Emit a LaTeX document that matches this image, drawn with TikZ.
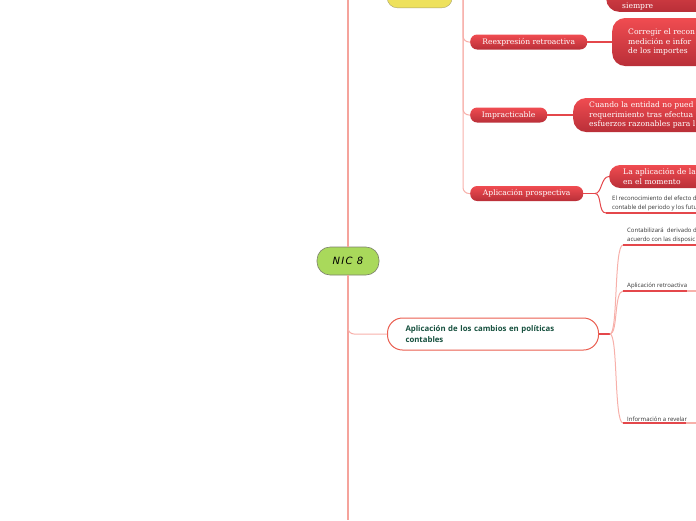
\documentclass[tikz,border=0pt]{standalone}
\usepackage{fontspec}
\setmainfont{Open Sans}
\newfontfamily\redserif{DejaVu Serif}
\newfontfamily\nicfont[LetterSpace=12]{DejaVu Sans}
\definecolor{trunkc}{HTML}{F5A39C}
\definecolor{branchc}{HTML}{F7B0AA}
\definecolor{redc}{HTML}{E4474B}
\definecolor{redtop}{HTML}{F04C51}
\definecolor{redbot}{HTML}{B92F38}
\definecolor{mainred}{HTML}{EA5E50}
\definecolor{maingreen}{HTML}{17513F}
\definecolor{nicgreen}{HTML}{A9D95B}
\definecolor{nicborder}{HTML}{7C806C}
\definecolor{yelfill}{HTML}{EEE15C}
\definecolor{yelborder}{HTML}{A8A270}
\definecolor{smallgray}{HTML}{333333}
\begin{document}
\begin{tikzpicture}[x=1pt,y=-1pt,
  pill/.style={rounded corners=7pt, top color=redtop, bottom color=redbot, text=white,
    font=\redserif\fontsize{7.6}{9}\selectfont, minimum height=15pt, inner sep=0pt, anchor=west},
  bigred/.style={rounded corners=13pt, top color=redtop, bottom color=redbot, text=white,
    font=\redserif\fontsize{7.6}{9.6}\selectfont, align=left, anchor=west, inner ysep=0pt},
  trunkline/.style={draw=trunkc, line width=1.4pt},
  branch/.style={draw=branchc, line width=1pt},
  redln/.style={draw=redc, line width=1.3pt},
  smalltext/.style={font=\fontsize{6}{9.5}\selectfont, text=smallgray, anchor=south west, inner sep=0pt, align=left}
]
\useasboundingbox (0,0) rectangle (696,520);
\clip (0,0) rectangle (696,520);

% nodes
\node (yel) [fill=yelfill, draw=yelborder, rounded corners=10pt, minimum width=65, minimum height=30, anchor=south west] at (387,8) {};
\node (nic) [fill=nicgreen, draw=nicborder, line width=0.6pt, rounded corners=13pt, minimum width=62, minimum height=28,
  font=\nicfont\itshape\fontsize{10}{12}\selectfont, text=black] at (348,261) {NIC 8};

\node (reex) [pill, minimum width=117] at (470,42) {Reexpresión retroactiva};
\node (impr) [pill, minimum width=77] at (470,115) {Impracticable};
\node (prosp) [pill, minimum width=113] at (470,193.5) {Aplicación prospectiva};

\node (topr) [bigred, minimum width=130, minimum height=40, anchor=south west] at (606,12) {};
\node (siem) [anchor=west, inner sep=0pt, text=white, font=\redserif\fontsize{7.6}{9}\selectfont] at (622,6) {siempre};
\node (corr) [bigred, minimum height=48, text width=90pt, inner xsep=16pt] at (612,42) {Corregir el recon\\medición e infor\\de los importes};
\node (cuan) [bigred, minimum height=34, text width=120pt, inner xsep=16pt] at (573,115) {Cuando la entidad no pued\\requerimiento tras efectua\\esfuerzos razonables para l};
\node (lapl) [bigred, rounded corners=11pt, minimum height=23, text width=90pt, inner xsep=14pt,
  font=\redserif\fontsize{7.6}{10}\selectfont] at (609,176.5) {La aplicación de la\\en el momento};

\node (recon) [smalltext, font=\fontsize{6}{9}\selectfont] at (612,211.5) {El reconocimiento del efecto d\\contable del periodo y los futu};

\node (main) [draw=mainred, line width=1pt, rounded corners=15pt, fill=white, minimum width=211, minimum height=32,
  anchor=west, text width=175pt, align=left, inner xsep=18pt, font=\bfseries\fontsize{7.8}{11}\selectfont, text=maingreen]
  at (387,334) {Aplicación de los cambios en políticas\\contables};

\node (conta) [smalltext] at (627,243.5) {Contabilizará\ \ derivado d\\acuerdo con las disposic};
\node (aret) [smalltext] at (627,289.5) {Aplicación retroactiva};
\node (info) [smalltext] at (627,421.5) {Información a revelar};

% coordinates
\coordinate (ttop) at (348,0);
\coordinate (tbot) at (348,520);
\coordinate (tj) at (348,300);
\coordinate (vtop) at (463,0);
\coordinate (pf) at (595,193.5);
\coordinate (u1) at (606,213);
\coordinate (u1e) at (700,213);
\coordinate (f2) at (610,334);
\coordinate (c1) at (623,245);
\coordinate (c1e) at (700,245);
\coordinate (c2) at (623,291);
\coordinate (c2m) at (687,291);
\coordinate (c2e) at (700,291);
\coordinate (c3) at (623,423);
\coordinate (c3m) at (686,423);
\coordinate (c3e) at (700,423);

% connectors
\draw[trunkline] (ttop) -- (nic.north);
\draw[trunkline] (nic.south) -- (tbot);
\draw[branch, rounded corners=6pt] (tj) |- (main.west);

\draw[branch, rounded corners=6pt] (vtop) |- (prosp.west);
\draw[branch, rounded corners=6pt] (vtop) |- (reex.west);
\draw[branch, rounded corners=6pt] (vtop) |- (impr.west);

\draw[redln] (reex.east) -- (corr.west);
\draw[redln] (impr.east) -- (cuan.west);
\draw[redln] (prosp.east) -- (pf);
\draw[redln, line width=1pt] (pf) .. controls (602,193.5) and (601,176.5) .. (lapl.west);
\draw[redln, line width=1pt] (pf) .. controls (602,193.5) and (598,213) .. (u1);
\draw[redln] (u1) -- (u1e);

\draw[redln] (main.east) -- (f2);
\draw[branch] (f2) .. controls (618,334) and (614,245) .. (c1);
\draw[branch] (f2) .. controls (618,334) and (614,291) .. (c2);
\draw[branch] (f2) .. controls (618,334) and (614,423) .. (c3);
\draw[redln] (c1) -- (c1e);
\draw[redln] (c2) -- (c2m);
\draw[branch, line width=1.3pt] (c2m) -- (c2e);
\draw[redln] (c3) -- (c3m);
\draw[branch, line width=1.3pt] (c3m) -- (c3e);
\end{tikzpicture}
\end{document}
